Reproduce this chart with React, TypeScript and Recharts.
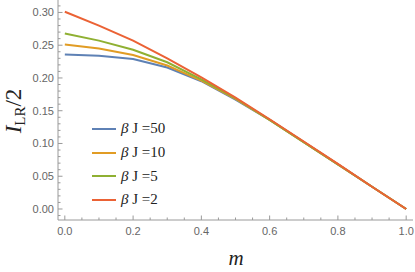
import { LineChart, Line, XAxis, YAxis, Legend } from 'recharts'

// m grid and the four curves
const mValues = [0, 0.1, 0.2, 0.3, 0.4, 0.5, 0.6, 0.7, 0.8, 0.9, 1.0]
const bj50 = [0.236, 0.234, 0.229, 0.216, 0.195, 0.167, 0.136, 0.102, 0.068, 0.034, 0]
const bj10 = [0.251, 0.245, 0.235, 0.219, 0.196, 0.168, 0.136, 0.102, 0.068, 0.034, 0]
const bj5 = [0.268, 0.257, 0.243, 0.224, 0.198, 0.169, 0.136, 0.102, 0.068, 0.034, 0]
const bj2 = [0.301, 0.28, 0.257, 0.23, 0.201, 0.17, 0.137, 0.103, 0.069, 0.034, 0]

const betaJ = [50, 10, 5, 2]
const colors = ['#5E81B5', '#E19C24', '#8FB032', '#EB6235']
const seriesKeys = ['bj50', 'bj10', 'bj5', 'bj2']

const xTicks = [0, 0.05, 0.1, 0.15, 0.2, 0.25, 0.3, 0.35, 0.4, 0.45, 0.5, 0.55, 0.6, 0.65, 0.7, 0.75, 0.8, 0.85, 0.9, 0.95, 1.0]
const yTicks = [
  -0.01, 0, 0.01, 0.02, 0.03, 0.04, 0.05, 0.06, 0.07, 0.08, 0.09, 0.1, 0.11, 0.12, 0.13, 0.14, 0.15,
  0.16, 0.17, 0.18, 0.19, 0.2, 0.21, 0.22, 0.23, 0.24, 0.25, 0.26, 0.27, 0.28, 0.29, 0.3, 0.31,
]

const data = mValues.map((m, i) => ({
  m,
  bj50: bj50[i],
  bj10: bj10[i],
  bj5: bj5[i],
  bj2: bj2[i],
}))

const FRAME = '#9a9a9a'
const TICK_TEXT = '#666'
const SANS = '"Liberation Sans", Arial, sans-serif'
const SERIF = '"Liberation Serif", "Times New Roman", serif'

const isMajor = (v: number, step: number) => Math.abs(v / step - Math.round(v / step)) < 1e-6

const makeXTick = (side: 'bottom' | 'top') => (props: any) => {
  const { x, y, payload } = props
  const major = isMajor(payload.value, 0.2)
  const len = major ? 4.5 : 2.5
  const dir = side === 'bottom' ? -1 : 1
  return (
    <g>
      <line x1={x} x2={x} y1={y} y2={y + dir * len} stroke={FRAME} strokeWidth={1} />
      {side === 'bottom' && major && (
        <text x={x} y={y + 15} textAnchor="middle" fontFamily={SANS} fontSize={11} fill={TICK_TEXT}>
          {payload.value.toFixed(1)}
        </text>
      )}
    </g>
  )
}

const makeYTick = (side: 'left' | 'right') => (props: any) => {
  const { x, y, payload } = props
  const major = isMajor(payload.value, 0.05)
  const len = major ? 4.5 : 2.5
  const dir = side === 'left' ? 1 : -1
  return (
    <g>
      <line x1={x} x2={x + dir * len} y1={y} y2={y} stroke={FRAME} strokeWidth={1} />
      {side === 'left' && major && (
        <text x={x - 4} y={y} dy="0.36em" textAnchor="end" fontFamily={SANS} fontSize={11} fill={TICK_TEXT}>
          {payload.value.toFixed(2)}
        </text>
      )}
    </g>
  )
}

const renderYLabel = () => (
  <text
    x={21}
    y={111}
    transform="rotate(-90, 21, 111)"
    textAnchor="middle"
    fontFamily={SERIF}
    fontSize={23}
    fill="#222"
  >
    <tspan fontStyle="italic">I</tspan>
    <tspan fontSize={15} dy={4}>LR</tspan>
    <tspan dy={-4}>/2</tspan>
  </text>
)

const renderXLabel = () => (
  <text x={236} y={265} textAnchor="middle" fontFamily={SERIF} fontStyle="italic" fontSize={21} fill="#222">
    m
  </text>
)

const renderLegend = () => (
  <div>
    {betaJ.map((b, i) => (
      <div key={b} style={{ height: 23.7, display: 'flex', alignItems: 'center' }}>
        <svg width={24} height={4} style={{ display: 'block' }}>
          <line x1={0} x2={24} y1={2} y2={2} stroke={colors[i]} strokeWidth={2} />
        </svg>
        <span style={{ marginLeft: 5, fontFamily: SERIF, fontSize: 15, color: '#222', whiteSpace: 'nowrap' }}>
          <i>β</i> J =<span>{b}</span>
        </span>
      </div>
    ))}
  </div>
)

export default function App() {
  return (
    <div style={{ width: 415, height: 272, background: '#fff' }}>
      <style>{'body{margin:0}'}</style>
      <LineChart width={415} height={272} data={data} margin={{ top: 0, right: 2, bottom: 0, left: 0 }}>
        <XAxis
          dataKey="m"
          type="number"
          domain={[-0.02, 1.02]}
          ticks={xTicks}
          interval={0}
          allowDataOverflow
          height={52}
          tickSize={0}
          tickMargin={0}
          axisLine={{ stroke: FRAME }}
          tickLine={false}
          tick={makeXTick('bottom')}
          label={{ content: renderXLabel }}
        />
        <XAxis
          xAxisId="top"
          orientation="top"
          type="number"
          dataKey="m"
          domain={[-0.02, 1.02]}
          ticks={xTicks}
          interval={0}
          allowDataOverflow
          height={0}
          tickSize={0}
          tickMargin={0}
          axisLine={{ stroke: FRAME }}
          tickLine={false}
          tick={makeXTick('top')}
        />
        <YAxis
          type="number"
          domain={[-0.0168, 0.319]}
          ticks={yTicks}
          interval={0}
          allowDataOverflow
          width={58}
          tickSize={0}
          tickMargin={0}
          axisLine={{ stroke: FRAME }}
          tickLine={false}
          tick={makeYTick('left')}
          label={{ content: renderYLabel }}
        />
        <YAxis
          yAxisId="right"
          orientation="right"
          type="number"
          domain={[-0.0168, 0.319]}
          ticks={yTicks}
          interval={0}
          allowDataOverflow
          width={0}
          tickSize={0}
          tickMargin={0}
          axisLine={{ stroke: FRAME }}
          tickLine={false}
          tick={makeYTick('right')}
        />
        <Legend
          layout="vertical"
          align="center"
          verticalAlign="middle"
          content={renderLegend}
          wrapperStyle={{ left: 92, top: 117, width: 'auto', height: 'auto' }}
        />
        {seriesKeys.map((k, i) => (
          <Line
            key={k}
            dataKey={k}
            name={`β J =${betaJ[i]}`}
            stroke={colors[i]}
            strokeWidth={2}
            dot={false}
            activeDot={false}
            isAnimationActive={false}
          />
        ))}
      </LineChart>
    </div>
  )
}
